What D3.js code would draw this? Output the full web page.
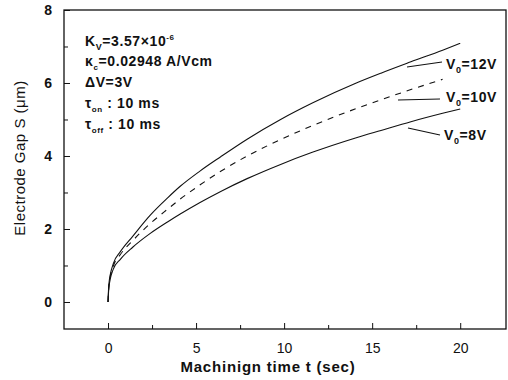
<!DOCTYPE html>
<html><head><meta charset="utf-8">
<script src="https://cdn.jsdelivr.net/npm/d3@7"></script>
<style>
body{margin:0;background:#fff;}
svg{display:block;font-family:"Liberation Sans",Arial,sans-serif;}
</style></head><body>
<svg id="c" width="508" height="380"></svg>
<script>
// ---- data ----
const timeS   = [0, 0.05, 0.3, 0.7, 1.4, 2.4, 3.4, 4.1, 5.2, 6.4, 7.9, 9.8, 11.6, 14.1, 15.5, 17.2, 19, 20];
const gap12V  = [0, 0.5, 1.05, 1.38, 1.8, 2.38, 2.86, 3.17, 3.58, 3.98, 4.46, 5.0, 5.45, 6.0, 6.27, 6.58, 6.9, 7.09];
const gap10V  = [0, 0.45, 0.98, 1.3, 1.68, 2.15, 2.55, 2.82, 3.2, 3.58, 4.0, 4.45, 4.83, 5.3, 5.54, 5.82, 6.1, null];
const gap8V   = [0, 0.4, 0.9, 1.17, 1.5, 1.88, 2.2, 2.41, 2.72, 3.03, 3.38, 3.77, 4.1, 4.5, 4.7, 4.94, 5.17, 5.29];
const seriesNames = ["12V", "10V", "8V"];
const xTicks = [0, 5, 10, 15, 20];
const xMinor = [2.5, 7.5, 12.5, 17.5];
const yTicks = [0, 2, 4, 6, 8];
const yMinor = [1, 3, 5, 7];

const svg = d3.select("#c");
const x = d3.scaleLinear().domain([-2.5, 22.6]).range([64, 506]);
const y = d3.scaleLinear().domain([-0.74, 8]).range([329, 10]);

// frame
svg.append("rect").attr("x", x(-2.5)).attr("y", y(8)).attr("width", x(22.6)-x(-2.5)).attr("height", y(-0.74)-y(8))
  .attr("fill", "none").attr("stroke", "#111").attr("stroke-width", 1.3);

// axes (ticks inward)
const xAxis = d3.axisBottom(x).tickValues(xTicks).tickSize(-6).tickPadding(14).tickFormat(d3.format("d"));
const gx = svg.append("g").attr("transform", `translate(0,${y(-0.74)})`).call(xAxis);
gx.select(".domain").remove();
gx.selectAll("line").attr("stroke", "#111");
gx.selectAll("text").attr("font-size", 14).attr("fill", "#111");
const gxm = svg.append("g").attr("transform", `translate(0,${y(-0.74)})`).call(d3.axisBottom(x).tickValues(xMinor).tickSize(-4).tickFormat(""));
gxm.select(".domain").remove();
gxm.selectAll("line").attr("stroke", "#111");

const yAxis = d3.axisLeft(y).tickValues(yTicks).tickSize(-6).tickPadding(12).tickFormat(d3.format("d"));
const gy = svg.append("g").attr("transform", `translate(${x(-2.5)},0)`).call(yAxis);
gy.select(".domain").remove();
gy.selectAll("line").attr("stroke", "#111");
gy.selectAll("text").attr("font-size", 14).attr("font-weight", "bold").attr("fill", "#111");
const gym = svg.append("g").attr("transform", `translate(${x(-2.5)},0)`).call(d3.axisLeft(y).tickValues(yMinor).tickSize(-4).tickFormat(""));
gym.select(".domain").remove();
gym.selectAll("line").attr("stroke", "#111");

// curves
const seriesVals = [gap12V, gap10V, gap8V];
const dashes = [null, "6,6", null];
const line = d3.line().defined(d => d[1] != null).x(d => x(d[0])).y(d => y(d[1])).curve(d3.curveMonotoneX);
seriesVals.forEach((vals, i) => {
  const pts = timeS.map((t, j) => [t, vals[j]]);
  svg.append("path").datum(pts).attr("d", line).attr("fill", "none")
    .attr("stroke", "#111").attr("stroke-width", 1.1)
    .attr("stroke-dasharray", dashes[i]);
});

// curve labels with pointer lines
const labelPos = [
  {tx: 446, ty: 69, x1: 407, y1: 67, x2: 442, y2: 62},
  {tx: 446, ty: 102, x1: 398, y1: 100, x2: 440, y2: 99},
  {tx: 444, ty: 140, x1: 408, y1: 128, x2: 440, y2: 135}
];
seriesNames.forEach((n, i) => {
  const p = labelPos[i];
  svg.append("line").attr("x1", p.x1).attr("y1", p.y1).attr("x2", p.x2).attr("y2", p.y2)
    .attr("stroke", "#111").attr("stroke-width", 1.2);
  const t = svg.append("text").attr("x", p.tx).attr("y", p.ty).attr("font-size", 14).attr("font-weight", "bold")
    .attr("letter-spacing", 0.6).attr("fill", "#111");
  t.append("tspan").text("V");
  t.append("tspan").attr("dy", 4).attr("font-size", 9).text("0");
  t.append("tspan").attr("dy", -4).text("=" + n);
});

// parameter block
const px = 85;
function addLine(yy, parts) {
  const t = svg.append("text").attr("x", px).attr("y", yy).attr("font-size", 14).attr("font-weight", "bold")
    .attr("letter-spacing", 0.6).attr("fill", "#111");
  parts.forEach(p => {
    const s = t.append("tspan").text(p.t);
    if (p.dy) s.attr("dy", p.dy);
    if (p.fs) s.attr("font-size", p.fs);
  });
}
addLine(46, [{t: "K"}, {t: "V", dy: 4, fs: 9}, {t: "=3.57×10", dy: -4}, {t: "-6", dy: -6, fs: 8}]);
addLine(66, [{t: "κ"}, {t: "c", dy: 4, fs: 8}, {t: "=0.02948 A/Vcm", dy: -4}]);
addLine(87, [{t: "ΔV=3V"}]);
addLine(108, [{t: "τ"}, {t: "on", dy: 4, fs: 8}, {t: " : 10 ms", dy: -4}]);
addLine(129, [{t: "τ"}, {t: "off", dy: 4, fs: 8}, {t: " : 10 ms", dy: -4}]);

// axis titles
svg.append("text").attr("x", 268).attr("y", 372).attr("text-anchor", "middle")
  .attr("font-size", 15).attr("font-weight", "bold").attr("letter-spacing", 0.8).attr("fill", "#111").text("Machinign time t (sec)");
svg.append("text").attr("transform", "translate(25,158) rotate(-90)").attr("text-anchor", "middle")
  .attr("font-size", 15).attr("letter-spacing", 0.5).attr("fill", "#111").text("Electrode Gap S (μm)");
</script>
</body></html>
